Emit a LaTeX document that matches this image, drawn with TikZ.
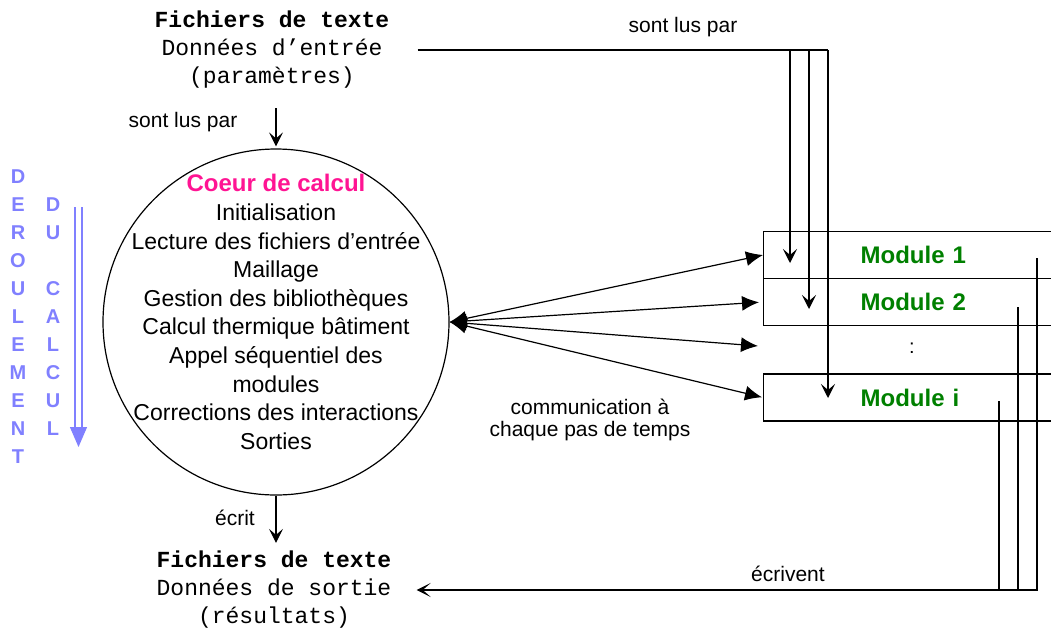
\documentclass[tikz,border=0pt]{standalone}
\usepackage{fontspec}
\setmainfont{Liberation Sans}
\setmonofont{Liberation Mono}
\usetikzlibrary{arrows.meta}
\definecolor{rose}{RGB}{255,20,147}
\definecolor{vertmodule}{RGB}{0,128,0}
\definecolor{bleuclair}{RGB}{128,128,255}
\begin{document}
\begin{tikzpicture}[x=0.5pt,y=-0.5pt]
% Styles
\tikzstyle{cadre}=[line width=0.6pt]
\tikzstyle{fleche}=[-{Stealth[length=7pt,width=7pt,inset=3pt]},line width=0.6pt]
\tikzstyle{echange}=[{Latex[length=8.5pt,width=7.5pt]}-{Latex[length=8.5pt,width=7.5pt]},line width=0.6pt]
\tikzstyle{fichier}=[align=center,inner sep=0pt,font=\ttfamily\fontsize{11.5}{14}\selectfont]
\tikzstyle{etiquette}=[align=center,inner sep=0pt,font=\fontsize{10.5}{11}\selectfont]
\tikzstyle{etape}=[align=center,inner sep=0pt,font=\fontsize{11.5}{14.3}\selectfont]
\tikzstyle{module}=[draw,line width=0.6pt,anchor=west,minimum height=23.5pt,text width=100pt,inner xsep=48.5pt,align=left,text=vertmodule,font=\bfseries\fontsize{12}{14}\selectfont]
\tikzstyle{lettres}=[align=center,inner sep=0pt,text=bleuclair,font=\bfseries\fontsize{10}{14}\selectfont]
% Dimensions
\def\xc{276}
\def\yc{322}
\path[use as bounding box,clip] (0,0) rectangle (1051,628);
% Fichiers d'entree et de sortie
\node[fichier] (fentree) at (272,50) {\textbf{Fichiers de texte}\\Données d’entrée\\(paramètres)};
\node[fichier] (fsortie) at (274,590) {\textbf{Fichiers de texte}\\Données de sortie\\(résultats)};
% Coeur de calcul
\node[draw,circle,line width=0.6pt,minimum size=173pt,inner sep=0pt] (coeur) at (\xc,\yc) {};
\node[etape] (etapes) at (\xc,312) {{\color{rose}\bfseries\fontsize{12}{14}\selectfont Coeur de calcul}\\Initialisation\\Lecture des fichiers d’entrée\\Maillage\\Gestion des bibliothèques\\Calcul thermique bâtiment\\Appel séquentiel des\\modules\\Corrections des interactions\\Sorties};
% Deroulement du calcul
\node[lettres] (derou) at (18,317) {D\\E\\R\\O\\U\\L\\E\\M\\E\\N\\T};
\node[lettres] (calcul) at (53,317) {D\\U\\\mbox{}\\C\\A\\L\\C\\U\\L};
\draw[bleuclair,line width=0.6pt] (75,207) -- (75,430) (82,207) -- (82,430);
\draw[bleuclair,line width=0.6pt,-{Triangle[length=10pt,width=8.5pt]}] (78.5,428) -- (78.5,447);
% Modules
\node[module] (mod1) at (763,255) {Module 1};
\node[module] (mod2) at (763,302) {Module 2};
\node[module] (modi) at (763,397.5) {Module i};
\node[inner sep=0pt,font=\fontsize{10}{12}\selectfont] (points) at (912,348) {:};
\coordinate (vide) at (758,346);
% Etiquettes
\node[etiquette] (lus1) at (183,122) {sont lus par};
\node[etiquette] (lus2) at (683,27) {sont lus par};
\node[etiquette] (ecrit) at (235,518) {écrit};
\node[etiquette] (ecrivent) at (788,574) {écrivent};
\node[etiquette] (comm) at (590,420) {communication à\\chaque pas de temps};
% Lecture des entrees
\draw[fleche,shorten <=9.5pt,shorten >=1pt] (coeur.north |- fentree.south) -- (coeur.north);
\coordinate (coin) at (828,50);
\coordinate (e1) at (790,263);
\coordinate (e2) at (809,309);
\coordinate (e3) at (828,398);
\draw[cadre] ([xshift=14pt]fentree.east) -- (coin);
\draw[fleche] (e1 |- coin) -- (e1);
\draw[fleche] (e2 |- coin) -- (e2);
\draw[fleche] (coin) -- (e3);
% Communication
\draw[echange] (coeur.east) -- (mod1.west);
\draw[echange,shorten >=2pt] (coeur.east) -- (mod2.west);
\draw[echange] (coeur.east) -- (vide);
\draw[echange,shorten >=0.5pt] (coeur.east) -- (modi.west);
% Ecriture des sorties
\draw[fleche,shorten >=4pt] (coeur.south) -- (coeur.south |- fsortie.north);
\coordinate (s1) at (1037,258);
\coordinate (s2) at (1018,307);
\coordinate (s3) at (999,401);
\coordinate (fin) at ([xshift=12.5pt]fsortie.east);
\draw[cadre,-{Stealth[length=7pt,width=7pt,inset=4pt]}] (s1) |- (fin);
\draw[cadre] (s2) -- (s2 |- fin);
\draw[cadre] (s3) -- (s3 |- fin);
\end{tikzpicture}
\end{document}
